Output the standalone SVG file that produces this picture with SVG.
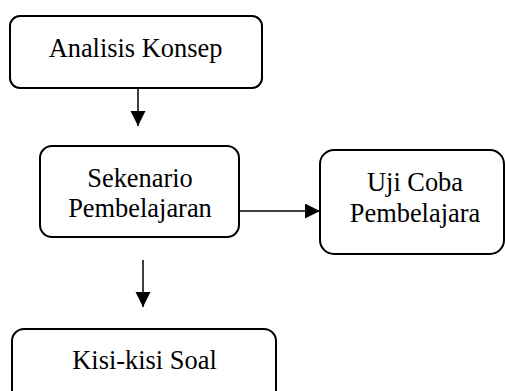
<svg xmlns="http://www.w3.org/2000/svg" width="505" height="391" viewBox="0 0 505 391">
<defs>
<style>
.box{fill:#fff;stroke:#000;stroke-width:2}
.t{font-family:"Liberation Serif","Times New Roman",serif;font-size:26.4px;fill:#000;text-anchor:middle}
.c{stroke:#000;stroke-width:1.5;fill:none}
</style>
<marker id="ah" markerWidth="16" markerHeight="16" refX="15" refY="7.5" orient="auto" markerUnits="userSpaceOnUse">
<path d="M0,0 L15,7.5 L0,15 Z" fill="#000"/>
</marker>
</defs>
<rect width="505" height="391" fill="#fff"/>
<g id="connectors">
<line class="c" x1="138" y1="88" x2="138" y2="126" marker-end="url(#ah)"/>
<line class="c" x1="230" y1="211" x2="320" y2="211" marker-end="url(#ah)"/>
<line class="c" x1="143" y1="260" x2="143" y2="307" marker-end="url(#ah)"/>
</g>
<g id="analisis">
<rect class="box" x="10" y="16" width="252" height="72" rx="10"/>
<text class="t" x="135.5" y="57">Analisis Konsep</text>
</g>
<g id="sekenario">
<rect class="box" x="40" y="146" width="199" height="91" rx="12"/>
<text class="t" x="140" y="187">Sekenario</text>
<text class="t" x="140" y="217">Pembelajaran</text>
</g>
<g id="ujicoba">
<rect class="box" x="320" y="150" width="184" height="104" rx="14"/>
<text class="t" x="415" y="191">Uji Coba</text>
<text class="t" x="415" y="222">Pembelajara</text>
</g>
<g id="kisi">
<rect class="box" x="12" y="329" width="264" height="90" rx="12"/>
<text class="t" x="144.5" y="368.5">Kisi-kisi Soal</text>
</g>
</svg>
